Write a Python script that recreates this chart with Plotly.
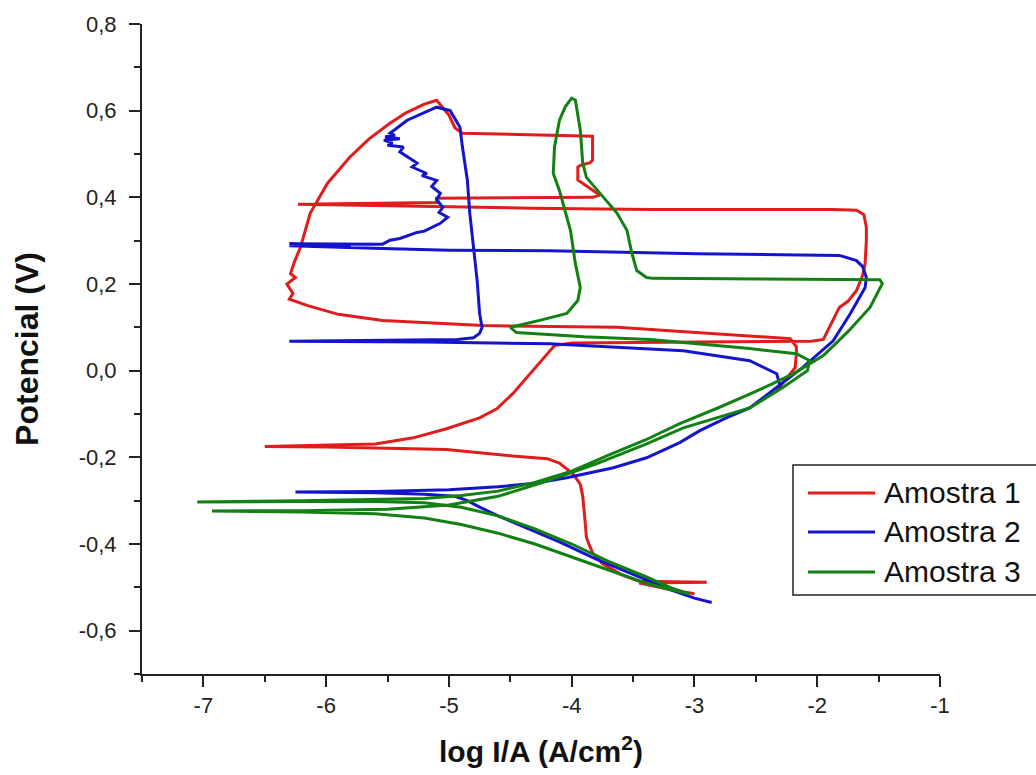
import plotly.graph_objects as go

# ---------------- data ----------------
series_names = ["Amostra 1", "Amostra 2", "Amostra 3"]

amostra1_logi = [-3.00, -3.20, -3.45, -2.90, -3.45, -3.60, -3.75, -3.83, -3.86, -3.88, -3.89, -3.90, -3.91,
                 -3.93, -3.99, -4.10, -4.20, -4.48, -5.02, -5.30, -5.60, -6.00, -6.50, -6.00, -5.60, -5.29,
                 -5.02, -4.75, -4.61, -4.48, -4.34, -4.20, -4.14, -4.00, -3.50, -3.00, -2.50, -2.22, -2.05,
                 -1.95, -1.90, -1.82, -1.75, -1.68, -1.63, -1.61, -1.60, -1.60, -1.62, -1.68, -1.87, -3.36,
                 -4.32, -5.50, -6.23, -5.10, -5.10, -3.83, -3.77, -3.95, -3.95, -3.93, -3.85, -3.83, -3.83,
                 -4.89, -4.95, -5.00, -5.06, -5.10, -5.20, -5.35, -5.48, -5.65, -5.81, -5.99, -6.13, -6.21,
                 -6.26, -6.29, -6.25, -6.32, -6.27, -6.30, -6.15, -5.90, -5.54, -4.72, -3.63, -3.00, -2.50,
                 -2.22, -2.17, -2.17, -2.18, -2.28, -2.33]
amostra1_e = [-0.515, -0.505, -0.490, -0.488, -0.486, -0.470, -0.445, -0.420, -0.400, -0.385, -0.350, -0.320,
              -0.290, -0.262, -0.238, -0.213, -0.203, -0.197, -0.182, -0.180, -0.178, -0.176, -0.175, -0.172,
              -0.169, -0.155, -0.134, -0.109, -0.088, -0.053, -0.007, 0.039, 0.058, 0.064, 0.065, 0.066,
              0.066, 0.066, 0.068, 0.072, 0.100, 0.146, 0.160, 0.185, 0.220, 0.247, 0.300, 0.331, 0.360,
              0.370, 0.372, 0.372, 0.375, 0.380, 0.384, 0.388, 0.398, 0.400, 0.405, 0.440, 0.470, 0.474,
              0.480, 0.486, 0.541, 0.548, 0.560, 0.590, 0.610, 0.624, 0.615, 0.595, 0.571, 0.535, 0.492,
              0.432, 0.363, 0.284, 0.250, 0.224, 0.215, 0.200, 0.178, 0.165, 0.150, 0.130, 0.116, 0.104,
              0.100, 0.088, 0.080, 0.074, 0.055, 0.039, 0.007, -0.030, -0.046]

amostra2_logi = [-2.86, -3.00, -3.20, -3.50, -3.80, -4.10, -4.40, -4.60, -4.75, -4.85, -4.95, -5.20, -5.60,
                 -6.25, -5.60, -5.00, -4.60, -4.30, -4.04, -3.66, -3.39, -3.12, -2.96, -2.75, -2.55, -2.33,
                 -2.12, -1.87, -1.73, -1.61, -1.60, -1.63, -1.68, -1.82, -2.98, -4.18, -5.00, -5.54, -6.30,
                 -5.80, -6.30, -5.54, -5.48, -5.40, -5.26, -5.20, -5.07, -5.01, -5.08, -5.05, -5.10, -5.07,
                 -5.14, -5.10, -5.22, -5.18, -5.30, -5.26, -5.40, -5.37, -5.50, -5.46, -5.53, -5.40, -5.52,
                 -5.44, -5.48, -5.34, -5.20, -5.10, -4.99, -4.91, -4.89, -4.85, -4.83, -4.80, -4.77, -4.75,
                 -4.73, -4.75, -4.80, -4.93, -6.30, -5.20, -4.18, -3.09, -2.55, -2.33, -2.30]
amostra2_e = [-0.535, -0.525, -0.505, -0.470, -0.435, -0.395, -0.360, -0.335, -0.315, -0.300, -0.290,
              -0.285, -0.282, -0.280, -0.279, -0.275, -0.268, -0.260, -0.247, -0.224, -0.201, -0.166,
              -0.139, -0.110, -0.086, -0.039, 0.007, 0.069, 0.132, 0.192, 0.215, 0.240, 0.254, 0.266,
              0.270, 0.277, 0.278, 0.282, 0.288, 0.290, 0.293, 0.292, 0.301, 0.305, 0.319, 0.322, 0.340,
              0.354, 0.365, 0.377, 0.395, 0.409, 0.425, 0.439, 0.450, 0.455, 0.470, 0.479, 0.505, 0.516,
              0.520, 0.525, 0.532, 0.535, 0.540, 0.543, 0.548, 0.578, 0.595, 0.608, 0.600, 0.562, 0.516,
              0.440, 0.363, 0.284, 0.208, 0.132, 0.100, 0.086, 0.076, 0.072, 0.068, 0.066, 0.062, 0.046,
              0.023, -0.007, -0.039]

amostra3_logi = [-3.04, -3.20, -3.40, -3.70, -4.00, -4.30, -4.60, -4.90, -5.20, -5.60, -6.20, -7.05, -6.20,
                 -5.60, -5.20, -4.90, -4.60, -4.30, -4.00, -3.70, -3.40, -3.12, -2.80, -2.50, -2.20, -1.95,
                 -1.75, -1.57, -1.47, -1.49, -2.50, -3.34, -3.39, -3.47, -3.51, -3.55, -3.63, -3.77, -3.88,
                 -3.91, -3.93, -3.97, -4.00, -4.05, -4.10, -4.14, -4.15, -4.10, -4.06, -4.01, -3.97, -3.93,
                 -3.95, -4.04, -4.26, -4.50, -4.45, -3.90, -3.36, -2.55, -2.17, -2.06, -2.08, -2.28, -2.55,
                 -3.09, -3.40, -3.80, -4.20, -4.60, -5.00, -5.50, -6.20, -6.93, -6.20, -5.60, -5.20, -4.90,
                 -4.60, -4.30, -4.00, -3.70, -3.40, -3.20, -3.06]
amostra3_e = [-0.516, -0.500, -0.475, -0.440, -0.400, -0.365, -0.335, -0.315, -0.305, -0.302, -0.302, -0.303,
              -0.300, -0.298, -0.295, -0.288, -0.278, -0.258, -0.232, -0.195, -0.160, -0.122, -0.085, -0.048,
              -0.008, 0.035, 0.090, 0.146, 0.201, 0.210, 0.211, 0.213, 0.215, 0.231, 0.271, 0.324, 0.363,
              0.409, 0.446, 0.479, 0.555, 0.624, 0.629, 0.610, 0.578, 0.516, 0.455, 0.416, 0.377, 0.324,
              0.247, 0.192, 0.162, 0.132, 0.116, 0.100, 0.088, 0.078, 0.072, 0.051, 0.039, 0.023, 0.000,
              -0.039, -0.086, -0.132, -0.170, -0.215, -0.255, -0.290, -0.310, -0.320, -0.323, -0.324,
              -0.326, -0.330, -0.340, -0.355, -0.375, -0.400, -0.430, -0.460, -0.490, -0.505, -0.514]

x_tick_vals = [-7, -6, -5, -4, -3, -2, -1]
x_tick_text = ["-7", "-6", "-5", "-4", "-3", "-2", "-1"]
y_tick_vals = [-0.6, -0.4, -0.2, 0.0, 0.2, 0.4, 0.6, 0.8]
y_tick_text = ["-0,6", "-0,4", "-0,2", "0,0", "0,2", "0,4", "0,6", "0,8"]

# ---------------- styling ----------------
colors = ["#e01c1c", "#1414cc", "#138013"]
FONT = "Arial, 'Liberation Sans', sans-serif"
AXIS_COLOR = "#222222"
W, H = 1036, 775
ML, MR, MT, MB = 142, 96, 24, 101

fig = go.Figure()
for name, xs, ys, c in zip(series_names,
                           [amostra1_logi, amostra2_logi, amostra3_logi],
                           [amostra1_e, amostra2_e, amostra3_e], colors):
    fig.add_trace(go.Scatter(x=xs, y=ys, mode="lines", name=name,
                             line=dict(color=c, width=3), showlegend=False))

axis_common = dict(showline=True, linecolor=AXIS_COLOR, linewidth=2, showgrid=False, zeroline=False,
                   ticks="outside", ticklen=11, tickwidth=2, tickcolor=AXIS_COLOR,
                   tickfont=dict(family=FONT, size=22, color="#222222"), mirror=False)

fig.update_xaxes(range=[-7.5, -1], tickmode="array", tickvals=x_tick_vals, ticktext=x_tick_text,
                 minor=dict(tickmode="linear", tick0=-7.5, dtick=0.5, ticklen=6, tickwidth=2,
                            tickcolor=AXIS_COLOR, ticks="outside"),
                 title=dict(text="<b>log I/A (A/cm<sup>2</sup>)</b>", standoff=24,
                            font=dict(family=FONT, size=30, color="#111111")),
                 ticklabelstandoff=0, **axis_common)
fig.update_yaxes(range=[-0.7, 0.8], tickmode="array", tickvals=y_tick_vals, ticktext=y_tick_text,
                 minor=dict(tickmode="linear", tick0=-0.7, dtick=0.1, ticklen=6, tickwidth=2,
                            tickcolor=AXIS_COLOR, ticks="outside"),
                 title=dict(text="<b>Potencial (V)</b>", standoff=30,
                            font=dict(family=FONT, size=32, color="#111111")),
                 ticklabelstandoff=8, **axis_common)

# ---------------- legend box (drawn in paper coordinates) ----------------
def px_x(px):
    return (px - ML) / (W - ML - MR)

def px_y(py):
    return (H - MB - py) / (H - MT - MB)

shapes = [dict(type="rect", xref="paper", yref="paper", x0=px_x(793), x1=px_x(1060),
               y0=px_y(595), y1=px_y(465), line=dict(color="#222222", width=1.5),
               fillcolor="white", layer="above")]
annotations = []
row_y = [493, 532, 572]
for name, c, ry in zip(series_names, colors, row_y):
    shapes.append(dict(type="line", xref="paper", yref="paper", x0=px_x(808), x1=px_x(875),
                       y0=px_y(ry), y1=px_y(ry), line=dict(color=c, width=3), layer="above"))
    annotations.append(dict(xref="paper", yref="paper", x=px_x(882), y=px_y(ry - 1), xanchor="left",
                            yanchor="middle", text=name, showarrow=False,
                            font=dict(family=FONT, size=30, color="#111111")))

fig.update_layout(width=W, height=H, margin=dict(l=ML, r=MR, t=MT, b=MB, autoexpand=False),
                  paper_bgcolor="white", plot_bgcolor="white", showlegend=False,
                  shapes=shapes, annotations=annotations)

fig.write_html("out.html")
